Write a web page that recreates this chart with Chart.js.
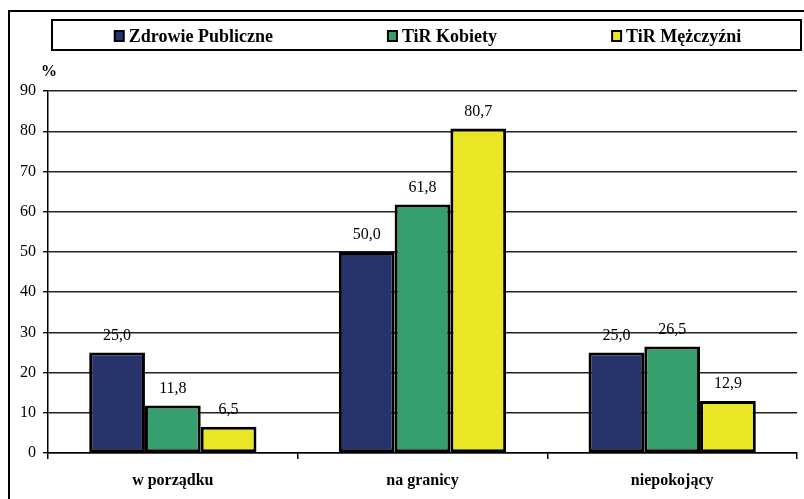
<!DOCTYPE html>
<html>
<head>
<meta charset="utf-8">
<script src="https://cdn.jsdelivr.net/npm/chart.js@4/dist/chart.umd.min.js"></script>
<style>
  html, body { margin: 0; padding: 0; background: #fff; }
  #wrap { width: 804px; height: 499px; position: relative; }
</style>
</head>
<body>
<div id="wrap"><canvas id="c" width="804" height="499"></canvas></div>
<script>
// ---- data ----
const categories = ['w porządku', 'na granicy', 'niepokojący'];
const seriesNames = ['Zdrowie Publiczne', 'TiR Kobiety', 'TiR Mężczyźni'];
const zdrowiePubliczne = [25.0, 50.0, 25.0];
const tirKobiety = [11.8, 61.8, 26.5];
const tirMezczyzni = [6.5, 80.7, 12.9];
const yTickMin = 0, yTickMax = 90, yTickStep = 10;
const yUnit = '%';

const colors = ['#28336c', '#379e6e', '#ebe625'];
const SERIF = '"Liberation Serif", "Times New Roman", serif';

const framePlugin = {
  id: 'frame',
  beforeDraw(chart) {
    const ctx = chart.ctx;
    ctx.save();
    ctx.fillStyle = '#fff';
    ctx.fillRect(0, 0, chart.width, chart.height);
    ctx.strokeStyle = '#000';
    ctx.lineWidth = 2;
    ctx.strokeRect(9, 11, 900, 600);
    ctx.restore();
  },
  afterDraw(chart) {
    const ctx = chart.ctx;
    ctx.save();
    // legend box
    ctx.strokeStyle = '#000';
    ctx.lineWidth = 2;
    ctx.strokeRect(52, 20, 749, 30);
    ctx.font = 'bold 18px ' + SERIF;
    ctx.textBaseline = 'middle';
    const boxW = 9, boxH = 10, gapText = 5, gapItem = 115;
    const widths = chart.data.datasets.map(d => boxW + gapText + ctx.measureText(d.label).width);
    const total = widths.reduce((a, b) => a + b, 0) + gapItem * (widths.length - 1);
    let x = 428 - total / 2;
    const cy = 36;
    chart.data.datasets.forEach((d, i) => {
      ctx.fillStyle = d.backgroundColor;
      ctx.fillRect(x, cy - boxH / 2, boxW, boxH);
      ctx.lineWidth = 2;
      ctx.strokeStyle = '#000';
      ctx.strokeRect(x, cy - boxH / 2, boxW, boxH);
      ctx.fillStyle = '#000';
      ctx.textAlign = 'left';
      ctx.fillText(d.label, x + boxW + gapText, cy + 1);
      x += widths[i] + gapItem;
    });
    // unit label
    ctx.font = 'bold 16px ' + SERIF;
    ctx.textAlign = 'center';
    ctx.fillText(yUnit, 49, 72);
    ctx.restore();
  },
  afterDatasetsDraw(chart) {
    const ctx = chart.ctx;
    ctx.save();
    ctx.font = '16px ' + SERIF;
    ctx.fillStyle = '#000';
    ctx.textAlign = 'center';
    ctx.textBaseline = 'middle';
    chart.data.datasets.forEach((d, i) => {
      const meta = chart.getDatasetMeta(i);
      meta.data.forEach((bar, j) => {
        const v = d.data[j];
        ctx.fillText(v.toFixed(1).replace('.', ','), bar.x, bar.y - 17);
      });
    });
    ctx.restore();
  }
};

new Chart(document.getElementById('c'), {
  type: 'bar',
  data: {
    labels: categories,
    datasets: [
      { label: seriesNames[0], data: zdrowiePubliczne, backgroundColor: colors[0] },
      { label: seriesNames[1], data: tirKobiety, backgroundColor: colors[1] },
      { label: seriesNames[2], data: tirMezczyzni, backgroundColor: colors[2] }
    ].map(d => Object.assign(d, { borderColor: '#000', borderWidth: 3, borderSkipped: false, categoryPercentage: 0.67, barPercentage: 1.0 }))
  },
  options: {
    responsive: false,
    animation: false,
    devicePixelRatio: 1,
    layout: { padding: { left: 0, right: 7, top: 91, bottom: 0 } },
    plugins: { legend: { display: false }, tooltip: { enabled: false } },
    scales: {
      x: {
        offset: true,
        grid: { display: true, drawOnChartArea: false, drawTicks: true, tickLength: 6, color: '#000', lineWidth: 1.5 },
        border: { display: true, color: '#000', width: 1.5 },
        ticks: { color: '#000', font: { family: SERIF, size: 16, weight: 'bold' }, padding: 12, maxRotation: 0 },
        afterFit(scale) { scale.height = 46; }
      },
      y: {
        min: yTickMin, max: yTickMax,
        grid: { color: '#222', lineWidth: 1.4, tickLength: 5, drawTicks: true, tickColor: '#000' },
        border: { display: true, color: '#000', width: 1.5 },
        ticks: { stepSize: yTickStep, color: '#000', font: { family: SERIF, size: 16 }, padding: 7 },
        afterFit(scale) { scale.width = 48; }
      }
    }
  },
  plugins: [framePlugin]
});
</script>
</body>
</html>
